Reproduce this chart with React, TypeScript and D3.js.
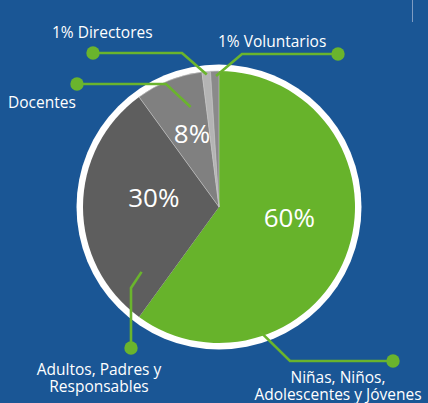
import React, { useRef, useEffect } from "react";
import * as d3 from "d3";

// slices, clockwise from 12 o'clock
const categories = ["Niñas, Niños, Adolescentes y Jóvenes", "Adultos, Padres y Responsables", "Docentes", "Directores", "Voluntarios"];
const shares = [60, 30, 8, 1, 1];
const sliceColors = ["#67b32b", "#5e5e5e", "#808080", "#b4b4b4", "#8a8a8a"];
const pctLabels = ["60%", "30%", "8%", "", ""];

// callout text, one entry per slice
const calloutLines = [
  ["Niñas, Niños,", "Adolescentes y Jóvenes"],
  ["Adultos, Padres y", "Responsables"],
  ["Docentes"],
  ["1% Directores"],
  ["1% Voluntarios"],
];

const W = 428, H = 403;
const cx = 219, cy = 207;
const R = 136, ring = 6.5;
const green = "#6ab42d";

// leader layout: where on the slice it starts (fraction of slice, radius), elbow, dot, text
const leaders = [
  { f: 0.75, r: 130, elbow: [290, 361], dot: [393, 361], tx: 338, ty: 383, anchor: "middle" },
  { f: 0.13, r: 101, elbow: [131, 288], dot: [131, 348], tx: 99, ty: 375, anchor: "middle" },
  { f: 0.7, r: 104, elbow: [166, 84], dot: [77, 84], tx: 8, ty: 108, anchor: "start" },
  { f: 0.53, r: 133, elbow: [182, 53], dot: [93, 53], tx: 52, ty: 38, anchor: "start" },
  { f: 0.64, r: 131, elbow: [242, 54], dot: [338, 54], tx: 218, ty: 47, anchor: "start" },
];

const pctPos = [
  { a: 98, r: 71 },
  { a: 279, r: 66 },
  { a: 340, r: 79 },
];

const polar = (deg: number, r: number) => {
  const t = (deg * Math.PI) / 180;
  return [cx + r * Math.sin(t), cy - r * Math.cos(t)];
};

export default function App() {
  const svgRef = useRef<SVGSVGElement>(null);

  useEffect(() => {
    const svg = d3.select(svgRef.current);
    svg.selectAll("*").remove();

    svg.append("rect").attr("width", W).attr("height", H).attr("fill", "#1a5695");
    svg.append("line")
      .attr("x1", 412.5).attr("x2", 412.5).attr("y1", 0).attr("y2", 22)
      .attr("stroke", "#7f9cc2").attr("stroke-width", 1);

    const data = categories.map((c, i) => ({ c, v: shares[i], i }));
    const pie = d3.pie<any>().sort(null).value((d) => d.v);
    const arcs = pie(data);
    const arc = d3.arc<any>().innerRadius(0).outerRadius(R);

    const g = svg.append("g").attr("transform", `translate(${cx},${cy})`);
    g.append("circle").attr("r", R + ring).attr("fill", "#fff");
    g.selectAll("path.slice")
      .data(arcs)
      .join("path")
      .attr("class", "slice")
      .attr("d", arc as any)
      .attr("fill", (d: any) => sliceColors[d.index])
      .attr("stroke", (d: any) => (d.index >= 2 ? "#c4c4c4" : "none"))
      .attr("stroke-width", 0.6);

    // percentage labels
    pctPos.forEach((p, i) => {
      const [x, y] = polar(p.a, p.r);
      svg.append("text")
        .attr("x", x).attr("y", y)
        .attr("text-anchor", "middle")
        .attr("dominant-baseline", "central")
        .attr("font-family", "Open Sans")
        .attr("font-size", 26)
        .attr("fill", "#fff")
        .text(pctLabels[i]);
    });

    // leaders + callouts
    arcs.forEach((a: any, i: number) => {
      const L = leaders[i];
      const deg = ((a.startAngle + L.f * (a.endAngle - a.startAngle)) * 180) / Math.PI;
      const start = polar(deg, L.r);
      svg.append("path")
        .attr("d", d3.line()([start as [number, number], L.elbow as [number, number], L.dot as [number, number]]))
        .attr("fill", "none")
        .attr("stroke", green)
        .attr("stroke-width", 2.6);
      svg.append("circle")
        .attr("cx", L.dot[0]).attr("cy", L.dot[1]).attr("r", 6.7)
        .attr("fill", green);
      const t = svg.append("text")
        .attr("font-family", "Open Sans")
        .attr("font-size", 15.5)
        .attr("fill", "#fff")
        .attr("text-anchor", L.anchor);
      calloutLines[i].forEach((line, k) => {
        t.append("tspan")
          .attr("x", L.tx)
          .attr("y", L.ty + k * 16.5)
          .text(line);
      });
    });
  }, []);

  return (
    <svg ref={svgRef} width={W} height={H} style={{ position: "absolute", left: 0, top: 0, display: "block" }} />
  );
}
